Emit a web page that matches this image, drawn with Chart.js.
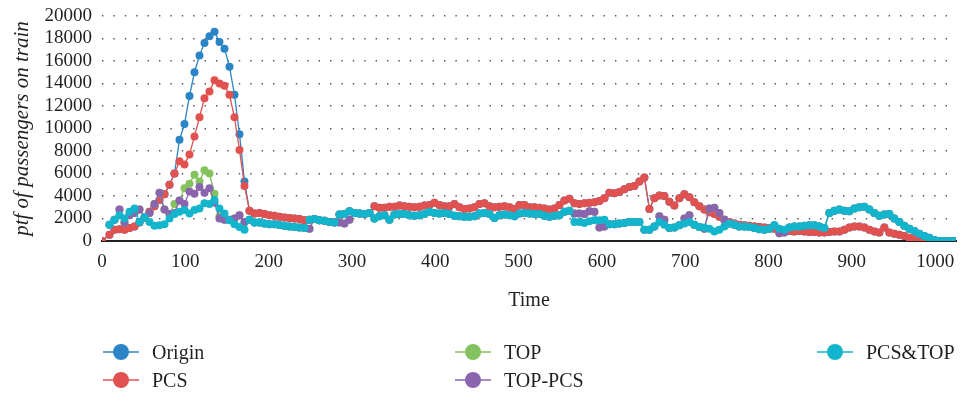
<!DOCTYPE html>
<html>
<head>
<meta charset="utf-8">
<script src="https://cdn.jsdelivr.net/npm/chart.js@4.4.1/dist/chart.umd.min.js"></script>
<style>
  html, body { margin: 0; padding: 0; background: #fff; }
  #wrap { position: relative; width: 960px; height: 395px; overflow: hidden; }
  #c { position: absolute; left: 0; top: 0; }
  .item { position: absolute; height: 24px; font-family: "Liberation Serif", "Times New Roman", serif; font-size: 20px; color: #231f20; }
  .item .ln { position: absolute; left: 0; top: 11px; width: 36px; height: 2px; }
  .item .dot { position: absolute; left: 10px; top: 4px; width: 16px; height: 16px; border-radius: 50%; }
  .item .tx { position: absolute; left: 49px; top: 0; line-height: 24px; white-space: nowrap; }
</style>
</head>
<body>
<div id="wrap">
  <canvas id="c" width="960" height="395"></canvas>
</div>
<script>
// Passenger load (ptf of passengers on train) per time sample, for the
// original timetable and the four adjusted strategies.

// sample times (min): first sample at service start, then every 6 min, mid-interval
const times = [0];
for (let t = 9; t <= 1023; t += 6) times.push(t);

const origin = [
  0, 550, 1000, 1050, 1000, 1150, 1300, 1650, 2050, 2600,
  3100, 3650, 4150, 5000, 6000, 9000, 10400, 12900, 15000, 16500,
  17600, 18200, 18600, 17700, 17100, 15500, 13000, 9500, 5300, 2700,
  2450, 2500, 2400, 2300, 2250, 2150, 2100, 2050, 2000, 1950,
  1850, 1900, 1950, 1850, 1800, 1700, 1650, 2350, 2400, 2650,
  2500, 2450, 2400, 2500, 3100, 2950, 2950, 3050, 3050, 3150,
  3100, 3050, 3000, 3050, 3150, 3200, 3400, 3200, 3100, 3100,
  3300, 3000, 2850, 2900, 3000, 3300, 3350, 3100, 3000, 3050,
  3100, 3000, 2850, 3200, 3200, 3000, 3000, 2950, 2900, 2800,
  2900, 3200, 3600, 3750, 3350, 3300, 3350, 3400, 3450, 3550,
  3800, 4300, 4250, 4350, 4600, 4800, 4900, 5300, 5650, 2850,
  3800, 4050, 4000, 3500, 3150, 3800, 4150, 3900, 3450, 3100,
  2800, 2550, 2400, 2150, 1900, 1700, 1550, 1450, 1400, 1350,
  1300, 1250, 1200, 1150, 1100, 1000, 950, 900, 850, 900,
  850, 800, 800, 750, 750, 800, 850, 850, 1000, 1200,
  1300, 1300, 1200, 1000, 850, 750, 1200, 750, 650, 550,
  450, 300, 150, 50, 0, 0, 0, 0, 0, 0,
  0
];

const pcs = [
  0, 550, 1000, 1050, 1000, 1150, 1300, 1650, 2050, 2600,
  3100, 3650, 4150, 5000, 6000, 7100, 6800, 7700, 9300, 11000,
  12700, 13300, 14300, 14000, 13800, 13000, 11000, 8100, 4900, 2700,
  2450, 2500, 2400, 2300, 2250, 2150, 2100, 2050, 2000, 1950,
  1850, 1900, 1950, 1850, 1800, 1700, 1650, 2350, 2400, 2650,
  2500, 2450, 2400, 2500, 3100, 2950, 2950, 3050, 3050, 3150,
  3100, 3050, 3000, 3050, 3150, 3200, 3400, 3200, 3100, 3100,
  3300, 3000, 2850, 2900, 3000, 3300, 3350, 3100, 3000, 3050,
  3100, 3000, 2850, 3200, 3200, 3000, 3000, 2950, 2900, 2800,
  2900, 3200, 3600, 3750, 3350, 3300, 3350, 3400, 3450, 3550,
  3800, 4300, 4250, 4350, 4600, 4800, 4900, 5300, 5650, 2850,
  3800, 4050, 4000, 3500, 3150, 3800, 4150, 3900, 3450, 3100,
  2800, 2550, 2400, 2150, 1900, 1700, 1550, 1450, 1400, 1350,
  1300, 1250, 1200, 1150, 1100, 1000, 950, 900, 850, 900,
  850, 800, 800, 750, 750, 800, 850, 850, 1000, 1200,
  1300, 1300, 1200, 1000, 850, 750, 1200, 750, 650, 550,
  450, 300, 150, 50, 0, 0, 0, 0, 0, 0,
  0
];

const top_ = [
  null, 1450, 1900, 2800, 1650, 2300, 2500, 2800, 2100, 2500,
  3300, 4300, 2800, 2400, 3300, 3600, 4700, 5100, 5900, 5300,
  6300, 6000, 4200, 2200, 1900, 1900, 2000, 2300, 1700, 1900,
  1650, 1650, 1550, 1500, 1500, 1420, 1350, 1300, 1250, 1200,
  1150, 1100, 1950, 1850, 1800, 1700, 1700, 1650, 1550, 1900,
  2500, 2450, 2400, 2500, 2000, 2200, 2300, 1900, 2350, 2400,
  2400, 2300, 2250, 2300, 2400, 2600, 2500, 2450, 2500, 2400,
  2250, 2200, 2150, 2150, 2200, 2450, 2500, 2400, 2050, 2300,
  2350, 2300, 2200, 2450, 2500, 2450, 2400, 2400, 2250, 2150,
  2250, 2300, 2600, 2700, 2450, 2450, 2400, 2650, 2600, 1200,
  1300, 1500, 1500, 1550, 1600, 1700, 1700, 1700, 1000, 1000,
  1300, 2200, 1900, 1150, 1200, 1400, 2000, 2300, 1450, 1250,
  1100, 2900, 2950, 2500, 1900, 1550, 1450, 1300, 1300, 1250,
  1150, 1050, 1000, 1100, 1400, 700, 750, 1200, 1300, 1300,
  1350, 1400, 1400, 1300, 1150, 2500, 2700, 2800, 2700, 2650,
  2900, 3000, 3050, 2800, 2500, 2250, 2350, 2400, 2000, 1700,
  1350, 1100, 900, 650, 450, 300, 100, 0, 0, 0,
  0
];

const topPcs = [
  null, 1450, 1900, 2800, 1650, 2300, 2500, 2800, 2100, 2500,
  3300, 4300, 2800, 2400, 2500, 3600, 3300, 4400, 4200, 4800,
  4300, 4700, 3400, 2000, 1900, 1900, 2000, 2300, 1700, 1900,
  1650, 1650, 1550, 1500, 1500, 1420, 1350, 1300, 1250, 1200,
  1150, 1100, 1950, 1850, 1800, 1700, 1700, 1650, 1550, 1900,
  2500, 2450, 2400, 2500, 2000, 2200, 2300, 1900, 2350, 2400,
  2400, 2300, 2250, 2300, 2400, 2600, 2500, 2450, 2500, 2400,
  2250, 2200, 2150, 2150, 2200, 2450, 2500, 2400, 2050, 2300,
  2350, 2300, 2200, 2450, 2500, 2450, 2400, 2400, 2250, 2150,
  2250, 2300, 2600, 2700, 2450, 2450, 2400, 2650, 2600, 1200,
  1300, 1500, 1500, 1550, 1600, 1700, 1700, 1700, 1000, 1000,
  1300, 2200, 1900, 1150, 1200, 1400, 2000, 2300, 1450, 1250,
  1100, 2900, 2950, 2500, 1900, 1550, 1450, 1300, 1300, 1250,
  1150, 1050, 1000, 1100, 1400, 700, 750, 1200, 1300, 1300,
  1350, 1400, 1400, 1300, 1150, 2500, 2700, 2800, 2700, 2650,
  2900, 3000, 3050, 2800, 2500, 2250, 2350, 2400, 2000, 1700,
  1350, 1100, 900, 650, 450, 300, 100, 0, 0, 0,
  0
];

const pcsTop = [
  null, 1450, 1900, 2300, 2000, 2600, 2900, 1700, 2100, 1700,
  1350, 1400, 1500, 2000, 2400, 2600, 2750, 2450, 2750, 2900,
  3350, 3300, 3650, 2900, 2450, 1850, 1500, 1250, 1000, 1900,
  1650, 1650, 1550, 1500, 1500, 1420, 1350, 1300, 1250, 1200,
  1150, 1900, 1950, 1850, 1800, 1700, 1650, 2350, 2400, 2650,
  2500, 2450, 2400, 2500, 2000, 2200, 2300, 1900, 2350, 2400,
  2400, 2300, 2250, 2300, 2400, 2600, 2500, 2450, 2500, 2400,
  2250, 2200, 2150, 2150, 2200, 2450, 2500, 2400, 2050, 2300,
  2350, 2300, 2200, 2450, 2500, 2450, 2400, 2400, 2250, 2150,
  2250, 2300, 2600, 2700, 1700, 1700, 1600, 1750, 1850, 1850,
  1900, 1500, 1500, 1550, 1600, 1700, 1700, 1700, 1000, 1000,
  1300, 1700, 1450, 1150, 1200, 1400, 1550, 1700, 1450, 1250,
  1200, 1100, 850, 1000, 1300, 1550, 1450, 1300, 1300, 1250,
  1150, 1050, 1000, 1100, 1400, 1100, 1000, 1200, 1300, 1300,
  1350, 1400, 1400, 1300, 1150, 2500, 2700, 2800, 2700, 2650,
  2900, 3000, 3050, 2800, 2500, 2250, 2350, 2400, 2000, 1700,
  1350, 1100, 900, 650, 450, 300, 100, 0, 0, 0,
  0
];

const yTicks = [0, 2000, 4000, 6000, 8000, 10000, 12000, 14000, 16000, 18000, 20000];
const xTicks = [0, 100, 200, 300, 400, 500, 600, 700, 800, 900, 1000];

const series = [
  { name: 'Origin',  values: origin, color: '#2b84c6', order: 5 },
  { name: 'PCS',     values: pcs,    color: '#e0514f', order: 4 },
  { name: 'TOP',     values: top_,   color: '#84c25e', order: 3 },
  { name: 'TOP-PCS', values: topPcs, color: '#8a64ad', order: 2 },
  { name: 'PCS&TOP', values: pcsTop, color: '#12b5cb', order: 1 }
];

const FONT = '"Liberation Serif", "Times New Roman", serif';
const INK = '#231f20';

const datasets = series.map(s => ({
  label: s.name,
  data: times.map((t, i) => ({ x: t, y: s.values[i] })),
  borderColor: s.color,
  backgroundColor: s.color,
  pointBackgroundColor: s.color,
  pointBorderColor: s.color,
  borderWidth: 1.3,
  pointRadius: 4,
  pointBorderWidth: 0,
  tension: 0,
  order: s.order
}));

// keep the plot box fixed: no extra room reserved for edge labels
const noEdgePad = s => { s.paddingLeft = 0; s.paddingRight = 0; s.paddingTop = 0; s.paddingBottom = 0; };

new Chart(document.getElementById('c'), {
  type: 'line',
  data: { datasets },
  options: {
    responsive: false,
    animation: false,
    events: [],
    layout: { padding: { top: 16, right: 3, bottom: 84, left: 0 } },
    plugins: { legend: { display: false }, tooltip: { enabled: false } },
    scales: {
      x: {
        type: 'linear',
        min: 0,
        max: 1025,
        afterBuildTicks: s => { s.ticks = xTicks.map(v => ({ value: v })); },
        afterFit: s => { s.height = 70; noEdgePad(s); },
        ticks: { padding: 10, autoSkip: false, maxRotation: 0, color: INK, font: { family: FONT, size: 19 }, callback: v => String(v) },
        grid: { display: false, drawTicks: false },
        border: { display: true, color: INK, width: 2 },
        title: { display: true, text: 'Time', color: INK, font: { family: FONT, size: 20 }, padding: { top: 0, bottom: -2 } }
      },
      y: {
        min: 0,
        max: 20000,
        afterBuildTicks: s => { s.ticks = yTicks.map(v => ({ value: v })); },
        afterFit: s => { s.width = 102; noEdgePad(s); },
        ticks: { padding: 10, autoSkip: false, color: INK, font: { family: FONT, size: 19 }, callback: v => String(v) },
        grid: { color: '#555', lineWidth: 1.4, drawTicks: false },
        border: { display: false, dash: [1.4, 10] },
        title: { display: true, text: 'ptf of passengers on train', color: INK, font: { family: FONT, size: 21, style: 'italic' }, padding: { top: 10, bottom: 0 } }
      }
    }
  }
});

// legend: three columns, filled down each column
const legendPos = [
  { name: 'Origin',  left: 103, top: 340 },
  { name: 'PCS',     left: 103, top: 368 },
  { name: 'TOP',     left: 455, top: 340 },
  { name: 'TOP-PCS', left: 455, top: 368 },
  { name: 'PCS&TOP', left: 817, top: 340 }
];
const wrap = document.getElementById('wrap');
legendPos.forEach(p => {
  const s = series.find(q => q.name === p.name);
  const el = document.createElement('div');
  el.className = 'item';
  el.style.left = p.left + 'px';
  el.style.top = p.top + 'px';
  el.innerHTML = '<span class="ln"></span><span class="dot"></span><span class="tx"></span>';
  el.querySelector('.ln').style.background = s.color;
  el.querySelector('.ln').style.opacity = '0.75';
  el.querySelector('.dot').style.background = s.color;
  el.querySelector('.tx').textContent = s.name;
  wrap.appendChild(el);
});
</script>
</body>
</html>
